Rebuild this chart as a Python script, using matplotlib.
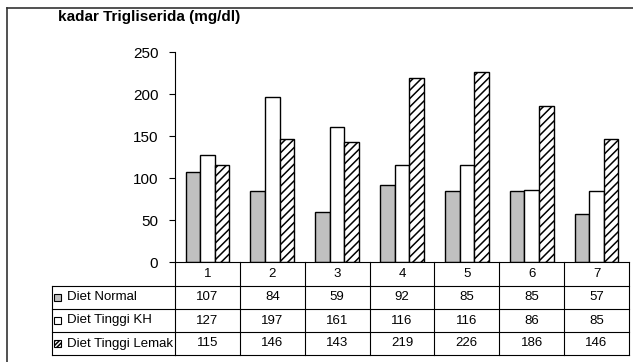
import numpy as np
import matplotlib.pyplot as plt
from matplotlib.lines import Line2D
from matplotlib.patches import Rectangle
from matplotlib.transforms import blended_transform_factory

categories = ["1", "2", "3", "4", "5", "6", "7"]
series_names = ["Diet Normal", "Diet Tinggi KH", "Diet Tinggi Lemak"]
diet_normal = [107, 84, 59, 92, 85, 85, 57]
diet_tinggi_kh = [127, 197, 161, 116, 116, 86, 85]
diet_tinggi_lemak = [115, 146, 143, 219, 226, 186, 146]
y_ticks = [0, 50, 100, 150, 200, 250]

series = [diet_normal, diet_tinggi_kh, diet_tinggi_lemak]
face_colors = ["#c0c0c0", "white", "white"]
hatches = [None, None, "////"]

plt.rcParams["font.family"] = ["Liberation Sans", "DejaVu Sans"]
plt.rcParams["hatch.linewidth"] = 1.1

W, H = 633, 362
fig = plt.figure(figsize=(W / 100, H / 100), dpi=100)


def fx(px):
    return px / W


def fy(py):
    return 1 - py / H


ax = fig.add_axes([fx(175), fy(262), fx(629) - fx(175), fy(52) - fy(262)])

x = np.arange(len(categories))
width = 0.225
for i, values in enumerate(series):
    ax.bar(
        x + (i - 1) * width,
        values,
        width,
        facecolor=face_colors[i],
        edgecolor="black",
        linewidth=1.0,
        hatch=hatches[i],
    )

ax.set_xlim(-0.5, len(categories) - 0.5)
ax.set_ylim(0, 250)
ax.set_yticks(y_ticks)
ax.set_xticks([])
ax.tick_params(axis="y", direction="out", length=4, width=0.8, pad=8, labelsize=11)
for side in ["top", "right", "bottom"]:
    ax.spines[side].set_visible(False)
ax.spines["left"].set_linewidth(0.8)

# data table under the plot
tr = blended_transform_factory(ax.transData, fig.transFigure)
row_y = [fy(262), fy(285.5), fy(309), fy(332), fy(355)]
line_kw = dict(color="black", linewidth=0.8, clip_on=False)

for y in row_y:
    fig.add_artist(Line2D([-0.5, len(categories) - 0.5], [y, y], transform=tr, **line_kw))
for y in row_y[1:]:
    fig.add_artist(Line2D([fx(52), fx(175)], [y, y], transform=fig.transFigure, **line_kw))
for edge in np.arange(len(categories) + 1) - 0.5:
    fig.add_artist(Line2D([edge, edge], [row_y[0], row_y[-1]], transform=tr, **line_kw))
fig.add_artist(Line2D([fx(52), fx(52)], [row_y[1], row_y[-1]], transform=fig.transFigure, **line_kw))

text_kw = dict(ha="center", va="center", fontsize=9.5)
for xi, label in zip(x, categories):
    fig.text(xi, (row_y[0] + row_y[1]) / 2, label, transform=tr, **text_kw)

for r, (name, values) in enumerate(zip(series_names, series)):
    yc = (row_y[r + 1] + row_y[r + 2]) / 2
    for xi, v in zip(x, values):
        fig.text(xi, yc, str(v), transform=tr, **text_kw)
    fig.add_artist(Rectangle(
        (fx(54), yc - 3.5 / H), 7 / W, 7 / H,
        transform=fig.transFigure,
        facecolor=face_colors[r],
        edgecolor="black",
        linewidth=0.8,
        hatch="////////" if hatches[r] else None,
    ))
    fig.text(fx(67), yc, name, ha="left", va="center", fontsize=9.5)

fig.text(fx(58), fy(17), "kadar Trigliserida (mg/dl)", ha="left", va="center",
         fontsize=11, fontweight="bold")

# chart frame
frame_kw = dict(color="#333333", linewidth=1.2, transform=fig.transFigure)
fig.add_artist(Line2D([fx(7), 1], [fy(8), fy(8)], **frame_kw))
fig.add_artist(Line2D([fx(7), fx(7)], [fy(8), 0], **frame_kw))

fig.savefig("out.png", dpi=100)
